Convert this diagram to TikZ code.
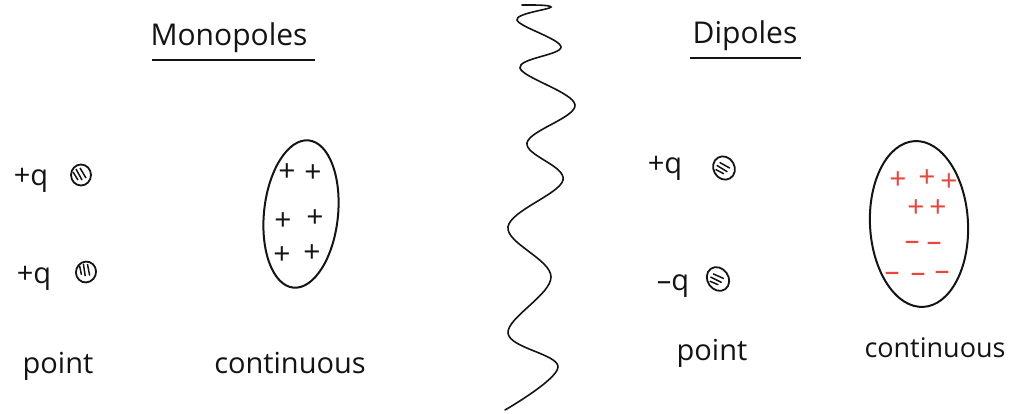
\documentclass[tikz,border=0pt]{standalone}
\usepackage{fontspec}
\setmainfont{Open Sans}
\definecolor{inkblack}{RGB}{20,20,20}
\definecolor{inkred}{RGB}{235,70,60}
\usetikzlibrary{shapes.geometric,calc}

\begin{document}
\begin{tikzpicture}[x=1pt,y=-1pt,line width=1.8pt,inkblack,
    hand/.style={font=\fontsize{29}{31}\selectfont,text=inkblack,anchor=base,inner sep=0pt},
    title/.style={hand,font=\fontsize{30}{32}\selectfont},
    sign/.style={font=\fontsize{30}{32}\selectfont,inner sep=0pt},
    charge/.style={draw,ellipse,inner sep=0pt,line width=1.8pt,
        minimum width=20pt,minimum height=21pt,
        path picture={
          \draw[line width=1.5pt] ([shift={(-5pt,6pt)}]path picture bounding box.center) -- ++(6pt,-11pt);
          \draw[line width=1.5pt] ([shift={(-1pt,7pt)}]path picture bounding box.center) -- ++(6pt,-10pt);
          \draw[line width=1.5pt] ([shift={(-8pt,3pt)}]path picture bounding box.center) -- ++(5pt,-8pt);
        }},
    body/.style={draw,ellipse,inner sep=0pt,line width=2pt}]
  \useasboundingbox (0,0) rectangle (1010,413);

  % Left half: monopoles
  \node[title] (mono) at (229,45) {Monopoles};
  \draw[line width=1.5pt] ([shift={(2pt,-15pt)}]mono.base west) -- ([shift={(7pt,-15pt)}]mono.base east);

  \node[hand] (qa) at (31,185) {+q};
  \node[charge] (ba) at (81,175) {};
  \node[hand] (qb) at (34,283) {+q};
  \node[charge,rotate=-20] (bb) at (86,272) {};
  \node[hand] (ptA) at (58,373) {point};

  \node[body,minimum width=74pt,minimum height=148pt,rotate=-6] (monoBody) at (301,214) {};
  \foreach \px/\py in {287/173, 313/174, 283/222, 315/219, 282/256, 312/254}
    \node[sign] at (\px,\py) {+};
  \node[hand] (contA) at (290,373) {continuous};

  % Separator
  \draw[line width=1.6pt,line cap=round] plot[smooth,tension=0.6] coordinates {
    (522,5) (551,7) (517,20) (561,47) (520,68) (575,105) (527,143)
    (563,180) (508,227) (551,277) (508,333) (558,367) (505,410)};

  % Right half: dipoles
  \node[title] (dip) at (745,43) {Dipoles};
  \draw[line width=1.5pt] ([shift={(-2pt,-15pt)}]dip.base west) -- ([shift={(3pt,-15pt)}]dip.base east);

  \node[hand] (qc) at (665,173) {+q};
  \node[charge,minimum width=21pt,minimum height=24pt,rotate=30] (bc) at (724,168) {};
  \node[hand] (qd) at (673,290) {\textendash q};
  \node[charge,minimum width=21pt,minimum height=25pt,rotate=35] (bd) at (718,279) {};
  \node[hand] (ptB) at (712,360) {point};

  \node[body,minimum width=98pt,minimum height=166pt,rotate=3] (dipBody) at (919,224) {};
  \foreach \px/\py in {898/181, 927/179, 949/183, 916/209, 938/209}
    \node[sign,text=inkred] at (\px,\py) {+};
  \foreach \px/\py in {912/246, 934/247, 892/277, 918/278, 942/276}
    \node[sign,text=inkred] at (\px,\py) {\textendash};
  \node[hand,font=\fontsize{27}{29}\selectfont] (contB) at (935,357) {continuous};
\end{tikzpicture}
\end{document}
